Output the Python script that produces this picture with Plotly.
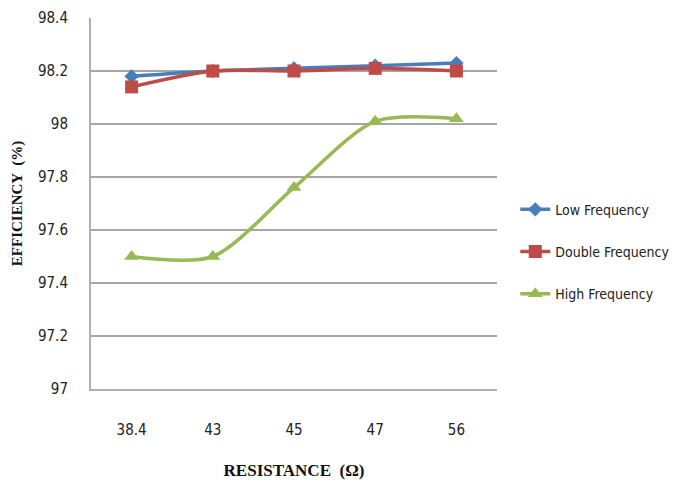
import plotly.graph_objects as go

resistance = ["38.4", "43", "45", "47", "56"]
low_freq = [98.18, 98.20, 98.21, 98.22, 98.23]
double_freq = [98.14, 98.20, 98.20, 98.21, 98.20]
high_freq = [97.50, 97.50, 97.76, 98.01, 98.02]

narrow = "DejaVu Sans Condensed, Liberation Sans Narrow, Liberation Sans, sans-serif"
tick_font = dict(family=narrow, size=15, color="#222")
title_font = dict(family="Liberation Serif, serif", size=17, color="#111")

fig = go.Figure()
series = [
    ("Low Frequency", low_freq, "#4a7ebb", "diamond", 11),
    ("Double Frequency", double_freq, "#be4b48", "square", 13),
    ("High Frequency", high_freq, "#98b954", "triangle-up", 13),
]
for name, vals, color, symbol, size in series:
    fig.add_trace(go.Scatter(
        x=resistance, y=vals, name=name, legendgroup=name, mode="lines+markers",
        line=dict(color=color, width=3.5, shape="spline", smoothing=0.8),
        marker=dict(symbol=symbol, size=size, color=color),
    ))

fig.update_layout(
    width=687, height=482,
    margin=dict(l=91, r=190, t=18, b=93, autoexpand=False),
    paper_bgcolor="white", plot_bgcolor="white",
    showlegend=True,
    legend=dict(x=1.045, y=0.37, xanchor="left", yanchor="middle",
                font=dict(family=narrow, size=14, color="#222"),
                tracegroupgap=21, itemwidth=30, bgcolor="rgba(0,0,0,0)"),
    xaxis=dict(
        type="category", range=[-0.5, len(resistance) - 0.5],
        showgrid=False, showline=True, linecolor="#b0b0b0", linewidth=2,
        ticks="", tickfont=tick_font, ticklabelstandoff=26,
        title=dict(text="<b>RESISTANCE  (Ω)</b>", font=title_font, standoff=26),
    ),
    yaxis=dict(
        range=[97, 98.4], dtick=0.2, showgrid=True, gridcolor="#a6a6a6", gridwidth=1.5,
        showline=True, linecolor="#b0b0b0", linewidth=2, ticks="", zeroline=False,
        tickfont=tick_font, ticklabelstandoff=18,
        title=dict(text="<b>EFFICIENCY  (%)</b>", font=dict(family="Liberation Serif, serif", size=15, color="#111"), standoff=12),
    ),
)

fig.write_html("out.html")
